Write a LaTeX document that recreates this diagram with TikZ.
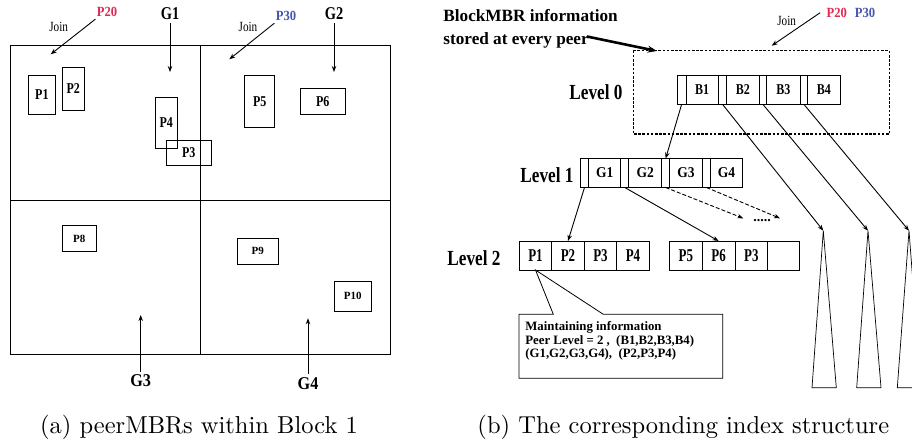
\documentclass[tikz,border=0pt]{standalone}
\usepackage{fontspec}
\newfontfamily\fA[FakeStretch=0.80]{Liberation Serif}
\newfontfamily\fB[FakeStretch=0.90]{Liberation Serif}
\newfontfamily\fC{Liberation Serif}
\newfontfamily\fD[FakeStretch=0.72]{Liberation Serif}
\newfontfamily\capfont[Extension=.otf]{lmroman10-regular}
\usetikzlibrary{arrows.meta}
\definecolor{pred}{RGB}{226,40,85}
\definecolor{pblue}{RGB}{70,85,175}
\begin{document}
\begin{tikzpicture}[x=1pt,y=-1pt,line width=0.8pt,
  arr/.style={-{Stealth[length=6pt,width=4.5pt]},line width=0.9pt},
  pbox/.style={draw,inner sep=0pt,outer sep=0pt,anchor=north west,font=\fA\bfseries\fontsize{15}{15}\selectfont},
  sbox/.style={draw,inner sep=0pt,outer sep=0pt,anchor=north west,font=\fC\bfseries\fontsize{11}{11}\selectfont},
  bcell/.style={draw,inner sep=0pt,outer sep=0pt,anchor=north west,minimum height=29.3pt,font=\fA\bfseries\fontsize{15}{15}\selectfont},
  gcell/.style={draw,inner sep=0pt,outer sep=0pt,anchor=north west,minimum height=29pt,font=\fB\bfseries\fontsize{15}{15}\selectfont},
  pcell/.style={draw,inner sep=0pt,outer sep=0pt,anchor=north west,minimum height=29pt,font=\fD\bfseries\fontsize{18}{18}\selectfont},
  glabel/.style={inner sep=0pt,font=\fA\bfseries\fontsize{18}{18}\selectfont},
  glabelb/.style={inner sep=0pt,font=\fB\bfseries\fontsize{18}{18}\selectfont},
  levlabel/.style={inner sep=0pt,font=\fA\bfseries\fontsize{21.5}{21.5}\selectfont},
  joinlabel/.style={inner sep=0pt,font=\fA\fontsize{14}{14}\selectfont},
  peerlabel/.style={inner sep=0pt,font=\fB\bfseries\fontsize{14}{14}\selectfont},
  caption/.style={inner sep=0pt,font=\capfont\fontsize{24.5}{24.5}\selectfont},
  tri/.style={draw,line width=0.7pt}
]
\clip (0,0) rectangle (912,444);
\fill[white] (0,0) rectangle (912,444);

% ---------------- left panel ----------------
\draw[line width=0.9pt] (10,45) rectangle (390,354);
\draw[line width=0.9pt] (200,45) -- (200,354);
\draw[line width=0.9pt] (10,200) -- (390,200);

\node[pbox,minimum width=26.3pt,minimum height=38.6pt] (lp1) at (28.7,75.7) {P1};
\node[pbox,minimum width=22pt,minimum height=42.7pt] (lp2) at (62.3,67.3) {P2};
\node[pbox,minimum width=22pt,minimum height=51.7pt] (lp4) at (155.3,97) {P4};
\node[pbox,minimum width=45pt,minimum height=25.7pt] (lp3) at (166.3,140) {P3};
\node[pbox,minimum width=30pt,minimum height=51.3pt] (lp5) at (244.7,75.7) {P5};
\node[pbox,minimum width=45pt,minimum height=26pt] (lp6) at (300.3,88.3) {P6};
\node[sbox,minimum width=33.7pt,minimum height=25.6pt] (lp8) at (62.3,225.7) {P8};
\node[sbox,minimum width=41pt,minimum height=25.7pt] (lp9) at (237.3,238.3) {P9};
\node[sbox,minimum width=37pt,minimum height=30pt] (lp10) at (334.3,281.3) {P10};

\node[glabel] (g1) at (170,14) {G1};
\node[glabel] (g2) at (334,14) {G2};
\node[glabelb] (g3) at (140.7,381) {G3};
\node[glabelb] (g4) at (308,383.5) {G4};
\coordinate (g1t) at (170,72);
\coordinate (g2t) at (334,72);
\coordinate (g3t) at (140.7,315);
\coordinate (g4t) at (308,318.3);
\draw[arr] ([yshift=-3pt]g1.south) -- (g1t);
\draw[arr] ([yshift=-3pt]g2.south) -- (g2t);
\draw[arr] ([yshift=3pt]g3.north) -- (g3t);
\draw[arr] ([yshift=3pt]g4.north) -- (g4t);

\node[peerlabel,text=pred] (p20a) at (107,12) {P20};
\node[peerlabel,text=pblue] (p30a) at (286,16) {P30};
\node[joinlabel] (joina) at (58.7,27) {Join};
\node[joinlabel] (joinb) at (248,27) {Join};
\coordinate (ja) at (50.7,54.3);
\coordinate (jb) at (229.3,59.3);
\draw[arr] ([xshift=-1pt,yshift=-2pt]p20a.south west) -- (ja);
\draw[arr] ([xshift=-1pt,yshift=-2pt]p30a.south west) -- (jb);

\node[caption] (capa) at (199,427) {(a) peerMBRs within Block 1};

% ---------------- right panel ----------------
\node[inner sep=0pt,anchor=west,align=left,font=\fC\bfseries\fontsize{17.2}{23}\selectfont] (blk) at (443,28.5) {BlockMBR information\\stored at every peer};
\coordinate (blkt) at (656.7,51);
\draw[-{Stealth[length=9pt,width=7pt]},line width=2.6pt] (587,36.5) -- (blkt);

\draw[line width=1.1pt,dash pattern=on 2.6pt off 1.6pt] (633.3,50.7) rectangle (889.3,134);

\node[joinlabel] (joinc) at (786.7,21) {Join};
\node[peerlabel,text=pred] (p20b) at (836.7,12.7) {P20};
\node[peerlabel,text=pblue] (p30b) at (865,12.7) {P30};
\coordinate (jc) at (771.7,45.7);
\draw[arr] ([xshift=-6pt]p20b.west) -- (jc);

% Level 0
\node[levlabel] (lev0) at (596,92) {Level 0};
\node[bcell,minimum width=8.7pt] (l0s0) at (677.3,75) {};
\node[bcell,minimum width=32.3pt] (b1) at (686,75) {B1};
\node[bcell,minimum width=8.4pt] (l0s1) at (718.3,75) {};
\node[bcell,minimum width=32.3pt] (b2) at (726.7,75) {B2};
\node[bcell,minimum width=7.7pt] (l0s2) at (759,75) {};
\node[bcell,minimum width=33.3pt] (b3) at (766.7,75) {B3};
\node[bcell,minimum width=7.7pt] (l0s3) at (800,75) {};
\node[bcell,minimum width=32.3pt] (b4) at (807.7,75) {B4};

% Level 1
\node[levlabel] (lev1) at (547,175) {Level 1};
\node[gcell,minimum width=8pt] (l1s0) at (580.5,158.5) {};
\node[gcell,minimum width=32.3pt] (cg1) at (588.5,158.5) {G1};
\node[gcell,minimum width=8pt] (l1s1) at (620.8,158.5) {};
\node[gcell,minimum width=33pt] (cg2) at (628.8,158.5) {G2};
\node[gcell,minimum width=7.7pt] (l1s2) at (661.8,158.5) {};
\node[gcell,minimum width=33.2pt] (cg3) at (669.5,158.5) {G3};
\node[gcell,minimum width=7.5pt] (l1s3) at (702.7,158.5) {};
\node[gcell,minimum width=32.5pt] (cg4) at (710.2,158.5) {G4};

% Level 2
\node[levlabel] (lev2) at (474,258.5) {Level 2};
\node[pcell,minimum width=32.4pt] (cp1) at (519.3,241) {P1};
\node[pcell,minimum width=32.6pt] (cp2) at (551.7,241) {P2};
\node[pcell,minimum width=32.4pt] (cp3) at (584.3,241) {P3};
\node[pcell,minimum width=32.6pt] (cp4) at (616.7,241) {P4};
\node[pcell,minimum width=33pt] (cp5) at (669.3,241) {P5};
\node[pcell,minimum width=32.7pt] (cp6) at (702.3,241) {P6};
\node[pcell,minimum width=32.7pt] (cp3b) at (735,241) {P3};
\node[pcell,minimum width=31.6pt] (cpe) at (767.7,241) {};

% triangles
\coordinate (t1) at (823.3,230.7);
\coordinate (t2) at (868,230.7);
\coordinate (t3) at (909,230.7);
\draw[tri] (t1) -- (812,387.7) -- (836.3,387.7) -- cycle;
\draw[tri] (t2) -- (856.7,387.7) -- (881,387.7) -- cycle;
\draw[tri] (t3) -- (897.3,387.7) -- (921,387.7) -- cycle;

% connectors
\draw[arr] (l0s0.south) -- (l1s2.north);
\draw[arr] (l0s1.south) -- (t1);
\draw[arr] (l0s2.south) -- (t2);
\draw[arr] (l0s3.south) -- (t3);
\draw[arr] (l1s0.south) -- (cp2.north);
\draw[arr] (l1s1.south) -- (cp6.north);
\coordinate (d1) at (743.3,218.3);
\coordinate (d2) at (780,218.3);
\draw[arr,dash pattern=on 4pt off 2pt] (l1s2.south) -- (d1);
\draw[arr,dash pattern=on 4pt off 2pt] (l1s3.south) -- (d2);
\node[inner sep=0pt,font=\fC\bfseries\fontsize{14}{14}\selectfont] (dots) at (762,221) {.....};

% callout
\draw[line width=0.8pt,fill=white] (519,314.3) -- (553.3,314.3) -- (cp1.south) -- (603.3,314.3) -- (722.7,314.3) -- (722.7,378.3) -- (519,378.3) -- cycle;
\node[inner sep=0pt,anchor=north west,align=left,font=\fC\bfseries\fontsize{12.8}{13.4}\selectfont] (info) at (525,321.5)
  {Maintaining information\\Peer Level = 2 ,~ (B1,B2,B3,B4)\\(G1,G2,G3,G4),~ (P2,P3,P4)};

\node[caption] (capb) at (683.3,427) {(b) The corresponding index structure};
\end{tikzpicture}
\end{document}
